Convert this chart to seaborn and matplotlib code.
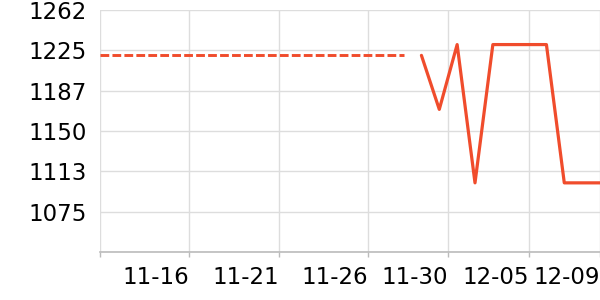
import matplotlib
matplotlib.use("Agg")
import matplotlib.pyplot as plt
import seaborn as sns
import numpy as np
import pandas as pd

# ---- data ----
idx_forecast = list(range(0, 18))
val_forecast = [1220] * 18
idx_actual = list(range(18, 29))
val_actual = [1220, 1170, 1230, 1102, 1230, 1230, 1230, 1230, 1102, 1102, 1102]
x_tick_labels = ["", "11-16", "11-21", "11-26", "11-30", "12-05", "12-09"]
y_tick_labels = ["", "1075", "1113", "1150", "1187", "1225", "1262"]

# layout (not data)
x_tick_pos = [0, 5, 10, 15, 19.5, 24, 28]
y_min, y_max = 1038, 1262
y_tick_pos = np.linspace(y_min, y_max, 7)

LINE = "#f04c2c"

sns.set_theme(style="white")
plt.rcParams["font.family"] = ["DejaVu Sans"]

fig = plt.figure(figsize=(6, 3), dpi=100)
ax = fig.add_axes([100 / 600, 48 / 300, 500 / 600, 242 / 300])

df_f = pd.DataFrame({"x": idx_forecast, "y": val_forecast})
df_a = pd.DataFrame({"x": idx_actual, "y": val_actual})

sns.lineplot(data=df_f, x="x", y="y", ax=ax, color=LINE, linewidth=2.1,
             dashes=False, zorder=3).lines[0].set_dashes([3.0, 1.1])
sns.lineplot(data=df_a, x="x", y="y", ax=ax, color=LINE, linewidth=2.3, zorder=3)

ax.set_xlim(0, 28)
ax.set_ylim(y_min, y_max)
ax.set_xticks(x_tick_pos)
ax.set_xticklabels(x_tick_labels, ha="right")
ax.set_yticks(y_tick_pos)
ax.set_yticklabels(y_tick_labels)
ax.set_xlabel("")
ax.set_ylabel("")

ax.grid(True, color="#dddddd", linewidth=1)
ax.set_axisbelow(True)
for s in ["top", "right", "left"]:
    ax.spines[s].set_visible(False)
ax.spines["bottom"].set_color("#bbbbbb")
ax.spines["bottom"].set_linewidth(1.2)

ax.tick_params(axis="x", length=3.5, width=1, color="#bbbbbb", pad=6.5,
               labelsize=16.5, labelcolor="#000000", bottom=True)
ax.tick_params(axis="y", length=0, pad=9.5, labelsize=16.5, labelcolor="#000000")
for lbl in ax.get_xticklabels():
    lbl.set_clip_on(False)

fig.savefig("out.png", dpi=100)
